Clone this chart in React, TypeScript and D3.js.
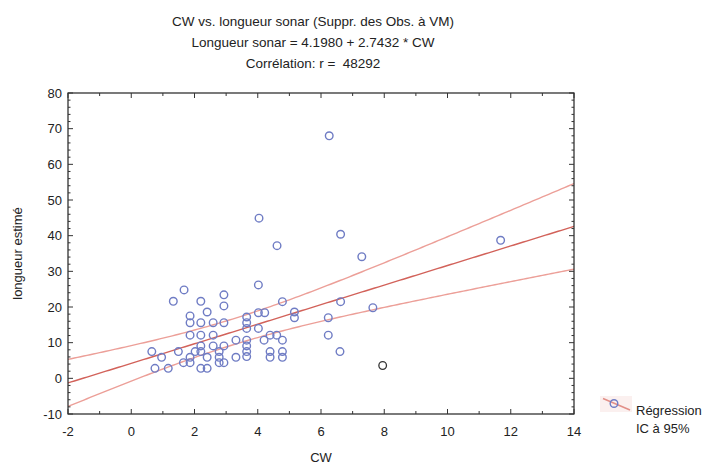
import React from "react";
import * as d3 from "d3";

// ---- data ----
const titleLines = [
  "CW vs. longueur sonar (Suppr. des Obs. à VM)",
  "Longueur sonar = 4.1980 + 2.7432 * CW",
  "Corrélation: r =  48292",
];
const xLabel = "CW";
const yLabel = "longueur estimé";
const legendLabels = ["Régression", "IC à 95%"];

const xTicks = [-2, 0, 2, 4, 6, 8, 10, 12, 14];
const yTicks = [-10, 0, 10, 20, 30, 40, 50, 60, 70, 80];

// regression coefficients (from title)
const intercept = 4.198;
const slope = 2.7432;
// 95% CI half-width parameters: h(x) = sqrt(ciA + ciB*(x - ciXMean)^2)
const ciA = 13.25;
const ciB = 1.121;
const ciXMean = 3.2;

const cw = [
  6.26, 4.04, 6.62, 4.61, 7.29, 11.68, 4.02, 1.67, 2.93, 1.33, 2.2, 2.93, 4.78, 6.62, 7.64,
  2.4, 4.02, 4.22, 5.16, 5.16, 6.23, 1.86, 1.86, 2.2, 2.59, 2.93, 3.65, 3.65, 3.65, 4.02,
  6.23, 1.86, 2.2, 2.59, 3.31, 3.65, 3.65, 3.65, 3.65, 4.2, 4.39, 4.6, 4.78, 4.39, 4.39,
  4.78, 4.78, 6.6, 2.2, 2.59, 2.93, 2.4, 2.78, 2.78, 2.78, 2.93, 1.86, 1.86, 1.65, 2.2,
  2.4, 3.31, 1.49, 0.96, 0.65, 0.75, 1.17, 2.02, 2.2,
];
const longueur = [
  68.0, 44.9, 40.4, 37.2, 34.1, 38.7, 26.2, 24.8, 23.4, 21.6, 21.6, 20.3, 21.5, 21.5, 19.8,
  18.6, 18.4, 18.4, 18.6, 17.0, 17.0, 17.5, 15.6, 15.6, 15.6, 15.6, 17.2, 15.6, 14.0, 14.0,
  12.1, 12.1, 12.1, 12.1, 10.7, 10.7, 9.1, 7.5, 6.1, 10.7, 12.1, 12.1, 10.7, 7.5, 5.9,
  7.5, 5.9, 7.5, 9.1, 9.1, 9.1, 5.9, 7.5, 5.9, 4.4, 4.4, 5.9, 4.4, 4.4, 2.8,
  2.8, 5.9, 7.5, 5.9, 7.5, 2.8, 2.8, 7.5, 7.5,
];
// point drawn in black
const excludedCw = [7.95];
const excludedLongueur = [3.6];

const W = 711;
const H = 464;
const left = 68, right = 574, top = 93, bottom = 414;
const FONT = "'Liberation Sans', Arial, sans-serif";

export default function App() {
  const x = d3.scaleLinear().domain([-2, 14]).range([left, right]);
  const y = d3.scaleLinear().domain([-10, 80]).range([bottom, top]);

  const xs = d3.range(-2, 14.001, 0.1);
  const fit = (v: number) => intercept + slope * v;
  const hw = (v: number) => Math.sqrt(ciA + ciB * (v - ciXMean) ** 2);
  const line = d3
    .line<number[]>()
    .x((d) => x(d[0]))
    .y((d) => y(d[1]));
  const mid = line(xs.map((v) => [v, fit(v)]));
  const up = line(xs.map((v) => [v, fit(v) + hw(v)]));
  const lo = line(xs.map((v) => [v, fit(v) - hw(v)]));

  const xMinor = d3.range(-2, 14.001, 1);
  const yMinor = d3.range(-10, 80.001, 2);

  const tickColor = "#333";
  return (
    <svg width={W} height={H} style={{ position: "absolute", left: 0, top: 0, background: "#fff" }}>
      <defs>
        <clipPath id="plot">
          <rect x={left} y={top} width={right - left} height={bottom - top} />
        </clipPath>
      </defs>
      {/* titles */}
      {titleLines.map((t, i) => (
        <text
          key={i}
          x={313}
          y={26 + i * 21}
          textAnchor="middle"
          fontFamily={FONT}
          fontSize={13.5}
          fill="#222"
          style={{ whiteSpace: "pre" }}
        >
          {t}
        </text>
      ))}
      {/* regression & CI */}
      <g clipPath="url(#plot)" fill="none">
        <path d={up || ""} stroke="#ec9f98" strokeWidth={1.4} />
        <path d={lo || ""} stroke="#ec9f98" strokeWidth={1.4} />
        <path d={mid || ""} stroke="#d2625a" strokeWidth={1.4} />
      </g>
      {/* points */}
      <g fill="none">
        {cw.map((v, i) => (
          <circle key={i} cx={x(v)} cy={y(longueur[i])} r={3.8} stroke="#6f7cc4" strokeWidth={1.4} />
        ))}
        {excludedCw.map((v, i) => (
          <circle key={"e" + i} cx={x(v)} cy={y(excludedLongueur[i])} r={3.8} stroke="#333" strokeWidth={1.3} />
        ))}
      </g>
      {/* frame */}
      <rect x={left} y={top} width={right - left} height={bottom - top} fill="none" stroke="#222" strokeWidth={1.2} />
      {/* x ticks (bottom and top, inward) */}
      {xMinor.map((v) => {
        const major = Math.abs(v % 2) < 1e-9;
        const len = major ? 5 : 3;
        return (
          <g key={"xt" + v} stroke={tickColor} strokeWidth={1}>
            <line x1={x(v)} x2={x(v)} y1={bottom} y2={bottom - len} />
            <line x1={x(v)} x2={x(v)} y1={top} y2={top + len} />
          </g>
        );
      })}
      {yMinor.map((v) => {
        const major = Math.abs(v % 10) < 1e-9;
        const len = major ? 5 : 2.5;
        return (
          <g key={"yt" + v} stroke={tickColor} strokeWidth={1}>
            <line x1={left} x2={left + len} y1={y(v)} y2={y(v)} />
            <line x1={right} x2={right - len} y1={y(v)} y2={y(v)} />
          </g>
        );
      })}
      {xTicks.map((v) => (
        <text key={"xl" + v} x={x(v)} y={bottom + 22} textAnchor="middle" fontFamily={FONT} fontSize={13} fill="#222">
          {v}
        </text>
      ))}
      {yTicks.map((v) => (
        <text key={"yl" + v} x={left - 6} y={y(v) + 4.5} textAnchor="end" fontFamily={FONT} fontSize={13} fill="#222">
          {v}
        </text>
      ))}
      <text x={x(6)} y={462} textAnchor="middle" fontFamily={FONT} fontSize={13} fill="#222">
        {xLabel}
      </text>
      <text
        transform={`translate(22, ${(top + bottom) / 2}) rotate(-90)`}
        textAnchor="middle"
        fontFamily={FONT}
        fontSize={13}
        fill="#222"
      >
        {yLabel}
      </text>
      {/* legend */}
      <rect x={600} y={396} width={32} height={16} fill="#fbf0ef" />
      <line x1={603} y1={398.5} x2={630} y2={410} stroke="#e28f88" strokeWidth={1.5} />
      <circle cx={614} cy={403.5} r={3.8} fill="none" stroke="#6f7cc4" strokeWidth={1.4} />
      <text x={636} y={415} fontFamily={FONT} fontSize={13} fill="#222">
        {legendLabels[0]}
      </text>
      <text x={636} y={433} fontFamily={FONT} fontSize={13} fill="#222">
        {legendLabels[1]}
      </text>
    </svg>
  );
}
